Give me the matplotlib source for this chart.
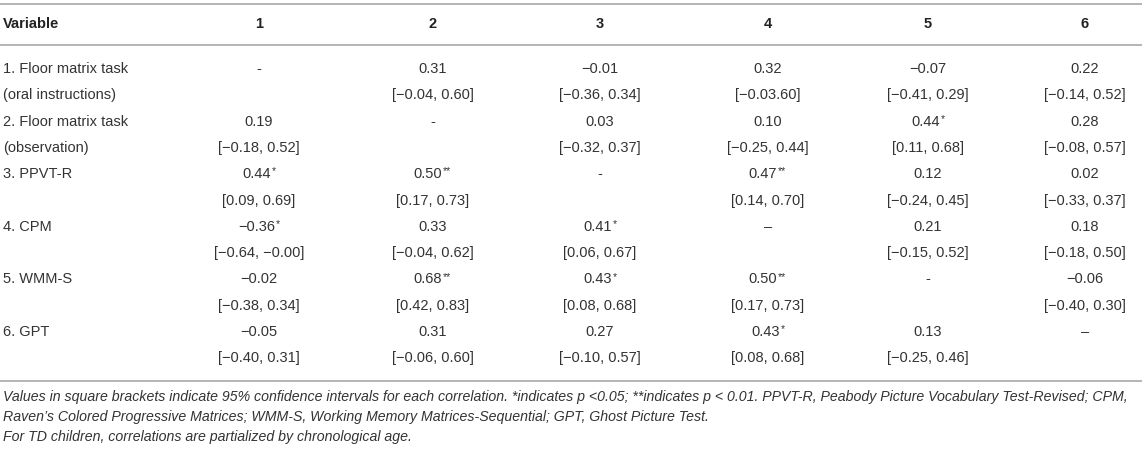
import matplotlib.pyplot as plt

plt.rcParams['font.family'] = ['Liberation Sans', 'DejaVu Sans']

# table content
header = ['Variable', '1', '2', '3', '4', '5', '6']
var_top = ['1. Floor matrix task', '2. Floor matrix task', '3. PPVT-R', '4. CPM', '5. WMM-S', '6. GPT']
var_sub = ['(oral instructions)', '(observation)', '', '', '', '']

r_vals = [
    ['-', '0.31', '\u22120.01', '0.32', '\u22120.07', '0.22'],
    ['0.19', '-', '0.03', '0.10', '0.44*', '0.28'],
    ['0.44*', '0.50**', '-', '0.47**', '0.12', '0.02'],
    ['\u22120.36*', '0.33', '0.41*', '\u2013', '0.21', '0.18'],
    ['\u22120.02', '0.68**', '0.43*', '0.50**', '-', '\u22120.06'],
    ['\u22120.05', '0.31', '0.27', '0.43*', '0.13', '\u2013'],
]
ci_vals = [
    ['', '[\u22120.04, 0.60]', '[\u22120.36, 0.34]', '[\u22120.03.60]', '[\u22120.41, 0.29]', '[\u22120.14, 0.52]'],
    ['[\u22120.18, 0.52]', '', '[\u22120.32, 0.37]', '[\u22120.25, 0.44]', '[0.11, 0.68]', '[\u22120.08, 0.57]'],
    ['[0.09, 0.69]', '[0.17, 0.73]', '', '[0.14, 0.70]', '[\u22120.24, 0.45]', '[\u22120.33, 0.37]'],
    ['[\u22120.64, \u22120.00]', '[\u22120.04, 0.62]', '[0.06, 0.67]', '', '[\u22120.15, 0.52]', '[\u22120.18, 0.50]'],
    ['[\u22120.38, 0.34]', '[0.42, 0.83]', '[0.08, 0.68]', '[0.17, 0.73]', '', '[\u22120.40, 0.30]'],
    ['[\u22120.40, 0.31]', '[\u22120.06, 0.60]', '[\u22120.10, 0.57]', '[0.08, 0.68]', '[\u22120.25, 0.46]', ''],
]
footnotes = [
    'Values in square brackets indicate 95% confidence intervals for each correlation. *indicates p <0.05; '
    '**indicates p < 0.01. PPVT-R, Peabody Picture Vocabulary Test-Revised; CPM,',
    'Raven\u2019s Colored Progressive Matrices; WMM-S, Working Memory Matrices-Sequential; GPT, Ghost Picture Test.',
    'For TD children, correlations are partialized by chronological age.',
]

# layout (pixel coords)
W, H = 1145, 449
col_x = [259, 433, 600, 768, 928, 1085]
row0, row_h = 69, 26.3
txt = '#333333'
line_c = '#b4b4b4'
fs = 10.5

fig = plt.figure(figsize=(W / 100, H / 100), dpi=100)
ax = fig.add_axes([0, 0, 1, 1])
ax.set_xlim(0, W)
ax.set_ylim(H, 0)
ax.axis('off')

for y in (4, 45, 381):
    ax.plot([0, 1142], [y, y], color=line_c, lw=1.4, solid_capstyle='butt')

ax.text(3, 24, header[0], fontsize=fs, fontweight='bold', color='#222222', va='center', ha='left')
for x, h in zip(col_x, header[1:]):
    ax.text(x, 24, h, fontsize=fs, fontweight='bold', color='#222222', va='center', ha='center')

for i in range(len(var_top)):
    y1 = row0 + 2 * i * row_h
    y2 = y1 + row_h
    ax.text(3, y1, var_top[i], fontsize=fs, color=txt, va='center', ha='left')
    if var_sub[i]:
        ax.text(3, y2, var_sub[i], fontsize=fs, color=txt, va='center', ha='left')
    for j, x in enumerate(col_x):
        val = r_vals[i][j]
        num = val.rstrip('*')
        stars = val[len(num):]
        t = ax.text(x - 2.5 * len(stars), y1, num, fontsize=fs, color=txt, va='center', ha='center')
        if stars:
            # small raised asterisks
            ax.annotate(stars, xy=(1.0, 1.0), xycoords=t, xytext=(0.5, 0.5), textcoords='offset points',
                        fontsize=7.5, color=txt, ha='left', va='top')
        if ci_vals[i][j]:
            ax.text(x, y2, ci_vals[i][j], fontsize=fs, color=txt, va='center', ha='center')

for k, line in enumerate(footnotes):
    ax.text(3, 397 + k * 20, line, fontsize=10.2, style='italic', color=txt, va='center', ha='left')

fig.savefig('out.png', dpi=100)
